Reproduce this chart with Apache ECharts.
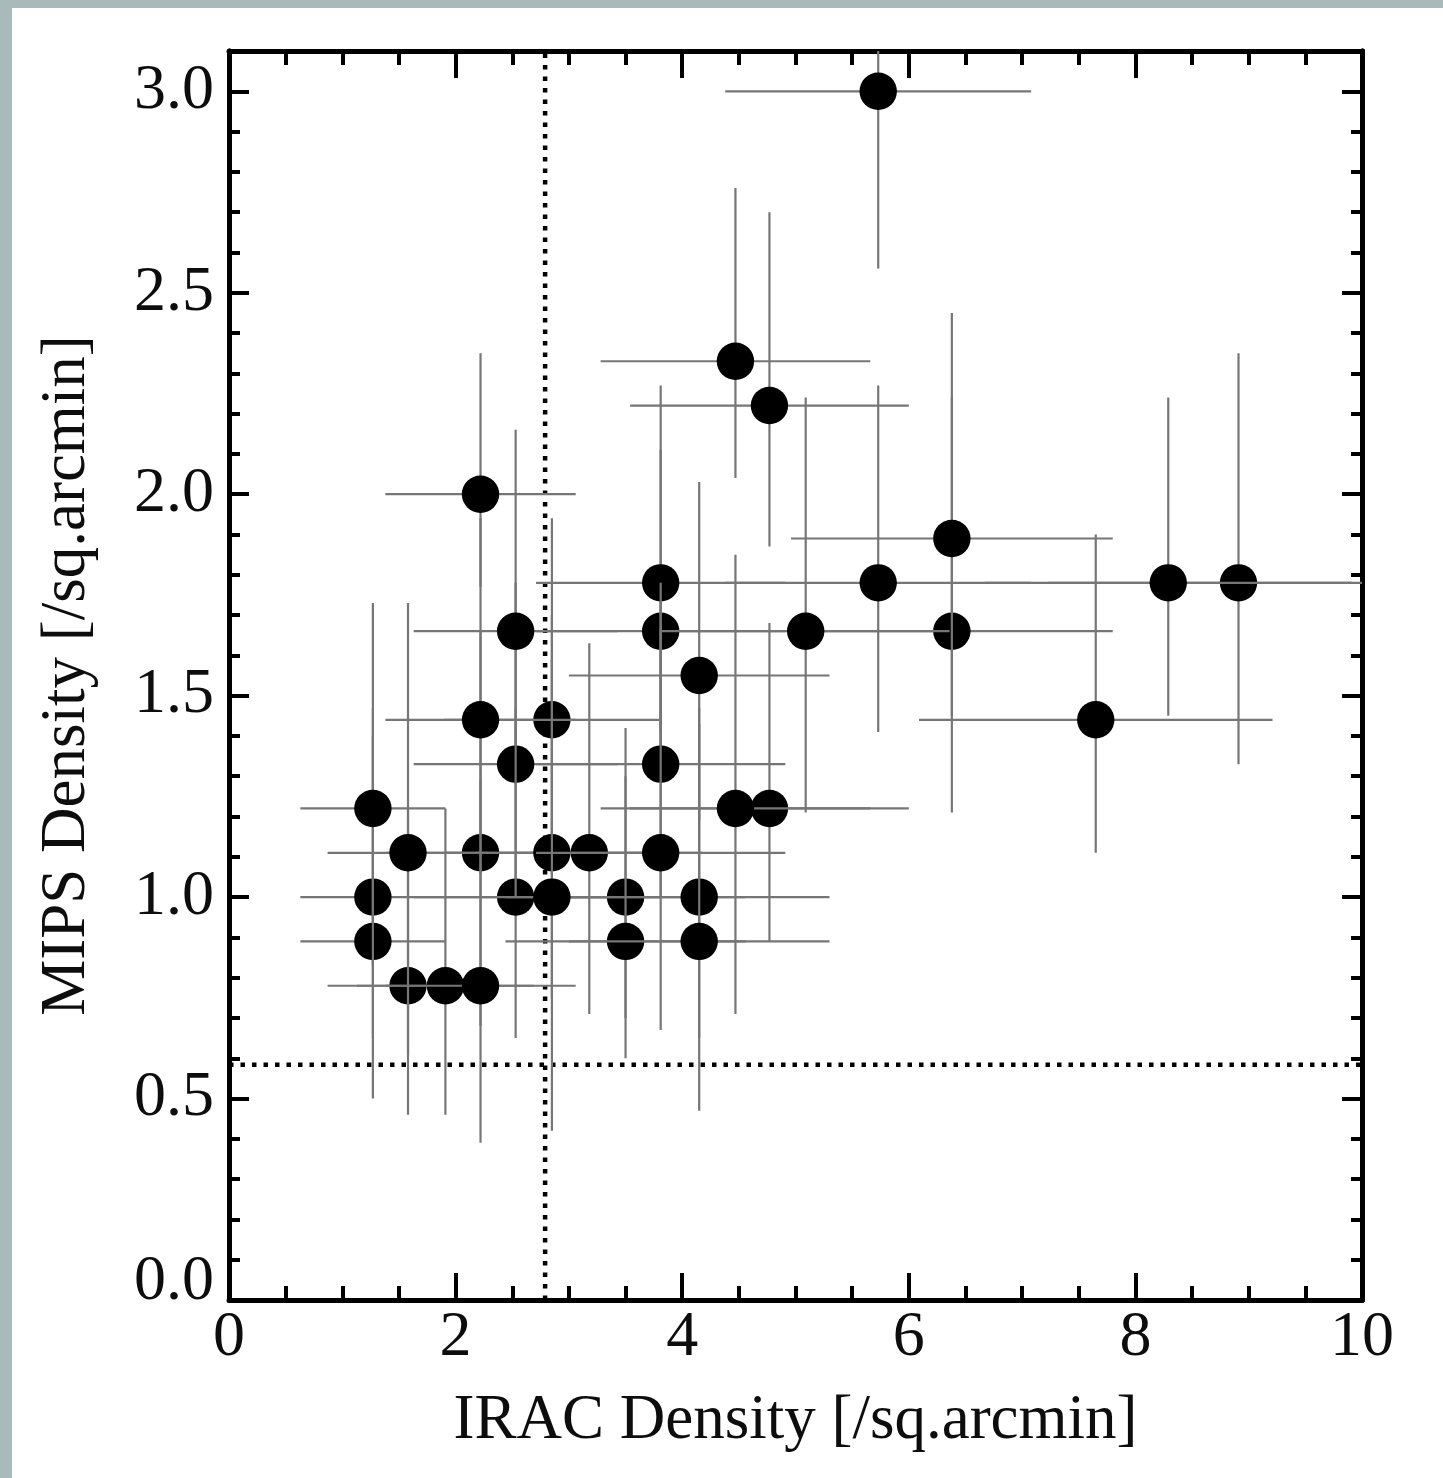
<!DOCTYPE html>
<html>
<head>
<meta charset="utf-8">
<script src="https://cdn.jsdelivr.net/npm/echarts@6/dist/echarts.min.js"></script>
<style>
html,body{margin:0;padding:0;width:1443px;height:1478px;background:#a8baba;overflow:hidden;}
#frame{position:absolute;left:12px;top:8px;right:0;bottom:0;background:#ffffff;}
#chart{position:absolute;left:0;top:0;width:1443px;height:1478px;}
</style>
</head>
<body>
<div id="frame"></div>
<div id="chart"></div>
<script>
// ---- data ----
// IRAC density (x) of each field
const irac = [1.58, 1.91, 2.22, 1.27, 1.27, 2.53, 3.50, 4.15, 3.50, 3.81, 6.38, 8.91, 2.85, 4.77, 3.18, 2.53, 2.85,
              5.73, 4.47, 4.77, 2.22, 6.38, 3.81, 5.73, 8.29, 2.53, 5.09, 4.15, 2.22, 7.65, 3.81, 1.27, 4.47, 1.58, 3.81, 2.85, 4.15, 2.22];
// MIPS density (y)
const mips = [0.78, 0.78, 1.11, 1.00, 0.89, 1.00, 1.00, 1.00, 0.89, 1.66, 1.66, 1.78, 1.44, 1.22, 1.11, 1.33, 1.11,
              3.00, 2.33, 2.22, 2.00, 1.89, 1.78, 1.78, 1.78, 1.66, 1.66, 1.55, 1.44, 1.44, 1.33, 1.22, 1.22, 1.11, 1.11, 1.00, 0.89, 0.78];
// horizontal error (half width)
const iracErr = [0.71, 0.78, 0.84, 0.64, 0.64, 0.90, 1.06, 1.15, 1.06, 1.10, 1.42, 1.68, 0.95, 1.23, 1.00, 0.90, 0.95,
                 1.35, 1.19, 1.23, 0.84, 1.42, 1.10, 1.35, 1.62, 0.90, 1.27, 1.15, 0.84, 1.56, 1.10, 0.64, 1.19, 0.71, 1.10, 0.95, 1.15, 0.84];
// vertical error, upward
const mipsErrUp = [0.44, 0.44, 0.55, 0.47, 0.51, 0.47, 0.42, 0.47, 0.41, 0.45, 0.58, 0.57, 0.50, 0.46, 0.52, 0.45, 0.48,
                   0.56, 0.43, 0.48, 0.35, 0.56, 0.49, 0.49, 0.46, 0.50, 0.58, 0.48, 0.50, 0.46, 0.45, 0.51, 0.63, 0.62, 0.56, 0.70, 0.54, 0.51];
// vertical error, downward
const mipsErrDown = [0.32, 0.32, 0.43, 0.35, 0.39, 0.35, 0.30, 0.35, 0.29, 0.33, 0.45, 0.45, 0.38, 0.33, 0.40, 0.33, 0.36,
                     0.44, 0.29, 0.35, 0.23, 0.44, 0.37, 0.37, 0.33, 0.38, 0.45, 0.36, 0.38, 0.33, 0.33, 0.39, 0.51, 0.50, 0.44, 0.58, 0.42, 0.39];
// reference (dotted) lines
const iracThreshold = 2.79;
const mipsThreshold = 0.584;
// axes
const xRange = [0, 10];
const yRange = [0, 3.1];
const xTickStep = 2;
const yTickStep = 0.5;
const xLabelText = 'IRAC Density [/sq.arcmin]';
const yLabelText = 'MIPS Density [/sq.arcmin]';

// ---- chart ----
const FONT = '"Liberation Serif", "Times New Roman", Times, serif';
const TXT = '#0d0d0d';
const points = irac.map((x, i) => [x, mips[i], iracErr[i], mipsErrUp[i], mipsErrDown[i]]);

function baseX(pos, showLabels) {
  return {
    type: 'value', position: pos, min: xRange[0], max: xRange[1], interval: xTickStep,
    axisLine: { show: true, onZero: false, lineStyle: { color: '#000', width: 5 } },
    axisTick: { show: true, inside: true, length: 27, lineStyle: { color: '#000', width: 4 } },
    minorTick: { show: true, splitNumber: 4, length: 14, lineStyle: { color: '#000', width: 4 } },
    splitLine: { show: false }, minorSplitLine: { show: false },
    axisLabel: showLabels ? { show: true, fontFamily: FONT, fontSize: 64, color: TXT, margin: 6,
      formatter: v => String(v) } : { show: false }
  };
}
function baseY(pos, step, tickLen, showLabels) {
  return {
    type: 'value', position: pos, min: yRange[0], max: yRange[1], interval: step,
    axisLine: { show: true, onZero: false, lineStyle: { color: '#000', width: 5 } },
    axisTick: { show: true, inside: true, length: tickLen, lineStyle: { color: '#000', width: 4 } },
    minorTick: { show: false },
    splitLine: { show: false }, minorSplitLine: { show: false },
    axisLabel: showLabels ? {
      show: true, fontFamily: FONT, fontSize: 64, color: TXT, margin: 15, showMaxLabel: false,
      formatter: v => {
        const k = Math.round(v / yTickStep);
        if (Math.abs(k * yTickStep - v) > 1e-6 || v > 3.0001) return '';
        return v === 0 ? '{low|' + v.toFixed(1) + '}' : v.toFixed(1);
      },
      rich: { low: { fontFamily: FONT, fontSize: 64, color: TXT, padding: [0, 0, 36, 0] } }
    } : { show: false }
  };
}

const xMain = baseX('bottom', true);
xMain.name = xLabelText;
xMain.nameLocation = 'middle';
xMain.nameGap = 90;
xMain.nameTextStyle = { fontFamily: FONT, fontSize: 63, color: TXT };
const xTop = baseX('top', false);

const yMain = baseY('left', yTickStep, 20, true);
yMain.name = yLabelText;
yMain.nameLocation = 'middle';
yMain.nameGap = 130;
yMain.nameTextStyle = { fontFamily: FONT, fontSize: 63, color: TXT };
const yMinorL = baseY('left', 0.1, 11, false);
const yRight = baseY('right', yTickStep, 20, false);
const yMinorR = baseY('right', 0.1, 11, false);

const dotted = { color: '#000', width: 4.5, type: [4.5, 7], cap: 'butt' };

const option = {
  backgroundColor: 'transparent',
  animation: false,
  grid: { left: 229, top: 51, width: 1133, height: 1249, containLabel: false },
  xAxis: [xMain, xTop],
  yAxis: [yMain, yMinorL, yRight, yMinorR],
  series: [
    {
      type: 'line', xAxisIndex: 0, yAxisIndex: 0, silent: true, symbol: 'none', z: 1,
      data: [[iracThreshold, yRange[0]], [iracThreshold, yRange[1]]],
      lineStyle: dotted
    },
    {
      type: 'line', xAxisIndex: 0, yAxisIndex: 0, silent: true, symbol: 'none', z: 1,
      data: [[xRange[0], mipsThreshold], [xRange[1], mipsThreshold]],
      lineStyle: dotted
    },
    {
      type: 'custom', xAxisIndex: 0, yAxisIndex: 0, z: 3, clip: true,
      data: points,
      renderItem: function (params, api) {
        const i = params.dataIndex;
        const x = api.value(0), y = api.value(1), ex = api.value(2), eu = api.value(3), ed = api.value(4);
        const c = api.coord([x, y]);
        const l = api.coord([Math.max(x - ex, xRange[0]), y]);
        const r = api.coord([Math.min(x + ex, xRange[1]), y]);
        const t = api.coord([x, Math.min(y + eu, yRange[1])]);
        const b = api.coord([x, Math.max(y - ed, yRange[0])]);
        const st = { stroke: '#767676', lineWidth: 2.2, fill: null };
        return {
          type: 'group',
          children: [
            { type: 'line', z2: i * 3, shape: { x1: l[0], y1: l[1], x2: r[0], y2: r[1] }, style: st },
            { type: 'line', z2: i * 3 + 1, shape: { x1: t[0], y1: t[1], x2: b[0], y2: b[1] }, style: st },
            { type: 'circle', z2: i * 3 + 2, shape: { cx: c[0], cy: c[1], r: 18.7 }, style: { fill: '#000', stroke: null } }
          ]
        };
      }
    }
  ]
};

const chart = echarts.init(document.getElementById('chart'), null, { renderer: 'canvas' });
chart.setOption(option);
</script>
</body>
</html>
